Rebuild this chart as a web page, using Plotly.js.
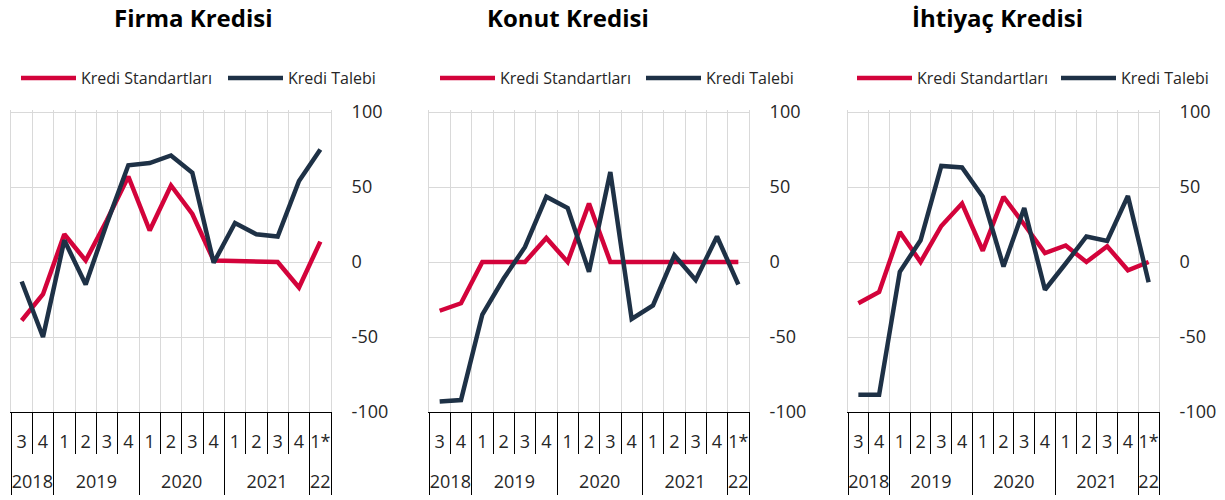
<!DOCTYPE html>
<html>
<head>
<meta charset="utf-8">
<script src="https://cdn.plot.ly/plotly-3.0.1.min.js"></script>
<style>
  html, body { margin: 0; padding: 0; background: #fff; }
  #chart { width: 1225px; height: 500px; }
</style>
</head>
<body>
<div id="chart"></div>
<script>
// ---- data ----
const quarters = ['3','4','1','2','3','4','1','2','3','4','1','2','3','4','1*'];
const years    = ['2018','2018','2019','2019','2019','2019','2020','2020','2020','2020','2021','2021','2021','2021','22'];

const panelTitles = ['Firma Kredisi', 'Konut Kredisi', 'İhtiyaç Kredisi'];
const seriesNames = ['Kredi Standartları', 'Kredi Talebi'];

const firmaStandart   = [-39, -21.5, 18.5, 1, 28, 57, 21, 51, 32, 1, 0.7, 0, 0, -17, 13.6];
const firmaTalep      = [-13, -50, 14.5, -15, 26, 64.5, 66, 71, 59.5, -0.5, 26, 18.5, 17, 54, 75];
const konutStandart   = [-32.5, -27.5, 0, 0, 0, 16, 0, 39, 0, 0, 0, 0, 0, 0, 0];
const konutTalep      = [-93, -92, -35, -11, 10, 43.5, 36, -6.5, 60, -38, -29, 4.5, -12, 17, -15];
const ihtiyacStandart = [-27.5, -20, 20, 0, 24, 39, 7.5, 43.5, 25, 6, 11, 0, 10.5, -5.5, 0];
const ihtiyacTalep    = [-88.5, -88.5, -6.5, 14.5, 64, 63, 43.5, -3, 36, -18.5, -1, 17, 14, 44, -13.5];

const yTicks = [-100, -50, 0, 50, 100];
const yTickText = yTicks.map(v => String(v));

// ---- derived helpers ----
const idx = quarters.map((_, i) => i);
const qBounds = quarters.map((_, i) => i - 0.5).concat([quarters.length - 0.5]);
const yearLabels = [], yearCenters = [], yearBounds = [-0.5];
(function () {
  let start = 0;
  for (let i = 1; i <= years.length; i++) {
    if (i === years.length || years[i] !== years[start]) {
      yearLabels.push(years[start]);
      yearCenters.push((start + i - 1) / 2);
      yearBounds.push(i - 0.5);
      start = i;
    }
  }
})();

const panels = [
  [firmaStandart, firmaTalep],
  [konutStandart, konutTalep],
  [ihtiyacStandart, ihtiyacTalep]
];

const colors = ['#d3033b', '#1e3146'];
const W = 1225, H = 500;
const xDomains = [[11, 331], [429, 749], [848, 1159]];
const yDom = [1 - 412 / H, 1 - 110 / H];
const titleX = [193, 568, 997];
const legendX = [16, 435, 852];
const legendEntry = [137, 136, 134];

const font = 'Open Sans, sans-serif';
const txtColor = '#262626';

const traces = [];
const layout = {
  width: W, height: H,
  margin: {l: 0, r: 0, t: 0, b: 0, autoexpand: false},
  paper_bgcolor: '#fff', plot_bgcolor: '#fff',
  font: {family: font, size: 18, color: txtColor},
  annotations: [],
  hovermode: false
};

panels.forEach((series, p) => {
  const k = p + 1;
  const xa = 'x' + k, ya = 'y' + k, yr = 'x' + (k + 3);
  const legName = k === 1 ? 'legend' : 'legend' + k;
  series.forEach((vals, s) => {
    traces.push({
      type: 'scatter', mode: 'lines',
      x: idx, y: vals,
      name: seriesNames[s],
      xaxis: xa, yaxis: ya,
      legend: legName,
      line: {color: colors[s], width: 4.5}
    });
  });
  traces.push({type: 'scatter', mode: 'lines', x: [], y: [], xaxis: yr, yaxis: ya, showlegend: false});

  const dom = [xDomains[p][0] / W, xDomains[p][1] / W];
  layout['xaxis' + k] = {
    domain: dom, anchor: ya, type: 'linear', range: [-0.5, quarters.length - 0.5],
    tickmode: 'array', tickvals: idx, ticktext: quarters,
    ticks: 'outside', ticklen: 13, tickcolor: 'rgba(0,0,0,0)',
    showgrid: false, zeroline: false,
    showline: true, linecolor: '#000', linewidth: 1,
    tickfont: {size: 18, color: txtColor, family: font},
    fixedrange: true,
    minor: {tickvals: qBounds, ticks: 'outside', ticklen: 41, tickcolor: '#000', tickwidth: 1,
            showgrid: true, gridcolor: '#d9d9d9', gridwidth: 1}
  };
  layout['xaxis' + (k + 3)] = {
    overlaying: xa, anchor: ya, side: 'bottom', type: 'linear', range: [-0.5, quarters.length - 0.5],
    tickmode: 'array', tickvals: yearCenters, ticktext: yearLabels,
    ticks: 'outside', ticklen: 53, tickcolor: 'rgba(0,0,0,0)',
    showgrid: false, zeroline: false, showline: false,
    tickfont: {size: 18, color: txtColor, family: font},
    fixedrange: true,
    minor: {tickvals: yearBounds, ticks: 'outside', ticklen: 82, tickcolor: '#000', tickwidth: 1, showgrid: false}
  };
  layout['yaxis' + k] = {
    domain: yDom, anchor: xa, side: 'right',
    range: [-100, 100 + 2 / 1.5],
    tickmode: 'array', tickvals: yTicks, ticktext: yTickText,
    ticks: 'outside', ticklen: 16, tickcolor: 'rgba(0,0,0,0)',
    showgrid: true, gridcolor: '#d9d9d9', gridwidth: 1,
    zeroline: false,
    showline: true, linecolor: '#d9d9d9', linewidth: 1, mirror: true,
    tickfont: {size: 18, color: txtColor, family: font},
    fixedrange: true
  };
  layout[legName] = {
    orientation: 'h', x: legendX[p] / W, y: 1 - 78 / H, xanchor: 'left', yanchor: 'middle',
    font: {size: 16, color: txtColor, family: font},
    bgcolor: 'rgba(0,0,0,0)', borderwidth: 0,
    itemwidth: 55,
    entrywidthmode: 'pixels', entrywidth: legendEntry[p], itemclick: false, itemdoubleclick: false
  };
  layout.annotations.push({
    xref: 'paper', yref: 'paper', x: titleX[p] / W, y: 1 - 17 / H,
    xanchor: 'center', yanchor: 'middle', showarrow: false,
    text: '<b>' + panelTitles[p] + '</b>',
    font: {size: 24, color: '#000', family: font}
  });
});

Plotly.newPlot('chart', traces, layout, {displayModeBar: false, staticPlot: true});
</script>
</body>
</html>
